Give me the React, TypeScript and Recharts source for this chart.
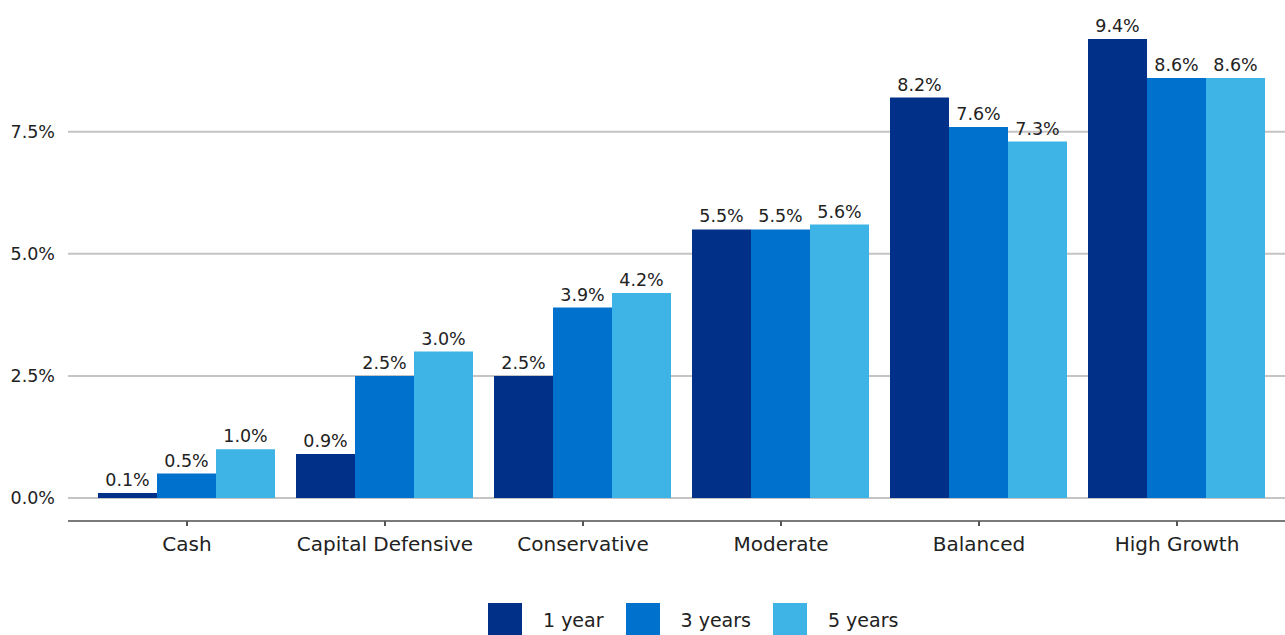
import React from "react";
import { BarChart, Bar, XAxis, YAxis, CartesianGrid, Legend, LabelList } from "recharts";

const categories = ["Cash", "Capital Defensive", "Conservative", "Moderate", "Balanced", "High Growth"];
const oneYear = [0.1, 0.9, 2.5, 5.5, 8.2, 9.4];
const threeYears = [0.5, 2.5, 3.9, 5.5, 7.6, 8.6];
const fiveYears = [1.0, 3.0, 4.2, 5.6, 7.3, 8.6];
const yTicks = [0, 2.5, 5, 7.5];
const seriesNames = ["1 year", "3 years", "5 years"];
const seriesColors = ["#003087", "#0072CE", "#3EB4E6"];

const data = categories.map((c, i) => ({
  name: c,
  y1: oneYear[i],
  y3: threeYears[i],
  y5: fiveYears[i],
}));

const FONT = "'DejaVu Sans', sans-serif";
const fmt = (v: number) => `${Number(v).toFixed(1)}%`;

const LegendContent = (props: any) => {
  const payload = props.payload || [];
  return (
    <div style={{ display: "flex", alignItems: "center", paddingTop: 36, paddingLeft: 488, fontFamily: FONT, fontSize: 19, color: "#222", height: 34 }}>
      {payload.map((p: any, i: number) => (
        <div key={i} style={{ display: "flex", alignItems: "center" }}>
          <div style={{ width: 34, height: 34, background: p.color, marginRight: 21 }} />
          <span style={{ marginRight: 22 }}>{p.value}</span>
        </div>
      ))}
    </div>
  );
};

export default function App() {
  const keys = ["y1", "y3", "y5"];
  return (
    <div style={{ position: "absolute", left: 0, top: 0, width: 1285, height: 635, background: "#fff", overflow: "hidden" }}>
      <BarChart
        width={1285}
        height={635}
        data={data}
        margin={{ top: -10, right: 0, left: 0, bottom: -2 }}
        barCategoryGap={10}
        barGap={0}
        style={{ overflow: "hidden" }}
      >
        <CartesianGrid horizontal vertical={false} stroke="#c4c4c4" strokeWidth={2} />
        <XAxis
          dataKey="name"
          height={46}
          padding={{ left: 20, right: 9 }}
          axisLine={{ stroke: "#7a7a7a", strokeWidth: 2 }}
          tickLine={{ stroke: "#555", strokeWidth: 2 }}
          tickSize={5}
          tickMargin={11}
          tick={{ fontFamily: FONT, fontSize: 20, fill: "#222" }}
          interval={0}
        />
        <YAxis
          width={68}
          domain={[-0.471, 10.403]}
          ticks={yTicks}
          allowDataOverflow
          axisLine={false}
          tickLine={false}
          tickSize={0}
          tickMargin={13}
          tickFormatter={fmt}
          tick={{ fontFamily: FONT, fontSize: 17.5, fill: "#222" }}
        />
        <Legend verticalAlign="bottom" content={<LegendContent />} />
        {keys.map((k, i) => (
          <Bar key={k} dataKey={k} name={seriesNames[i]} fill={seriesColors[i]} isAnimationActive={false}>
            <LabelList
              dataKey={k}
              position="top"
              offset={7}
              formatter={(v: any) => fmt(v)}
              style={{ fontFamily: FONT, fontSize: 17.5, fill: "#222" }}
            />
          </Bar>
        ))}
      </BarChart>
    </div>
  );
}
